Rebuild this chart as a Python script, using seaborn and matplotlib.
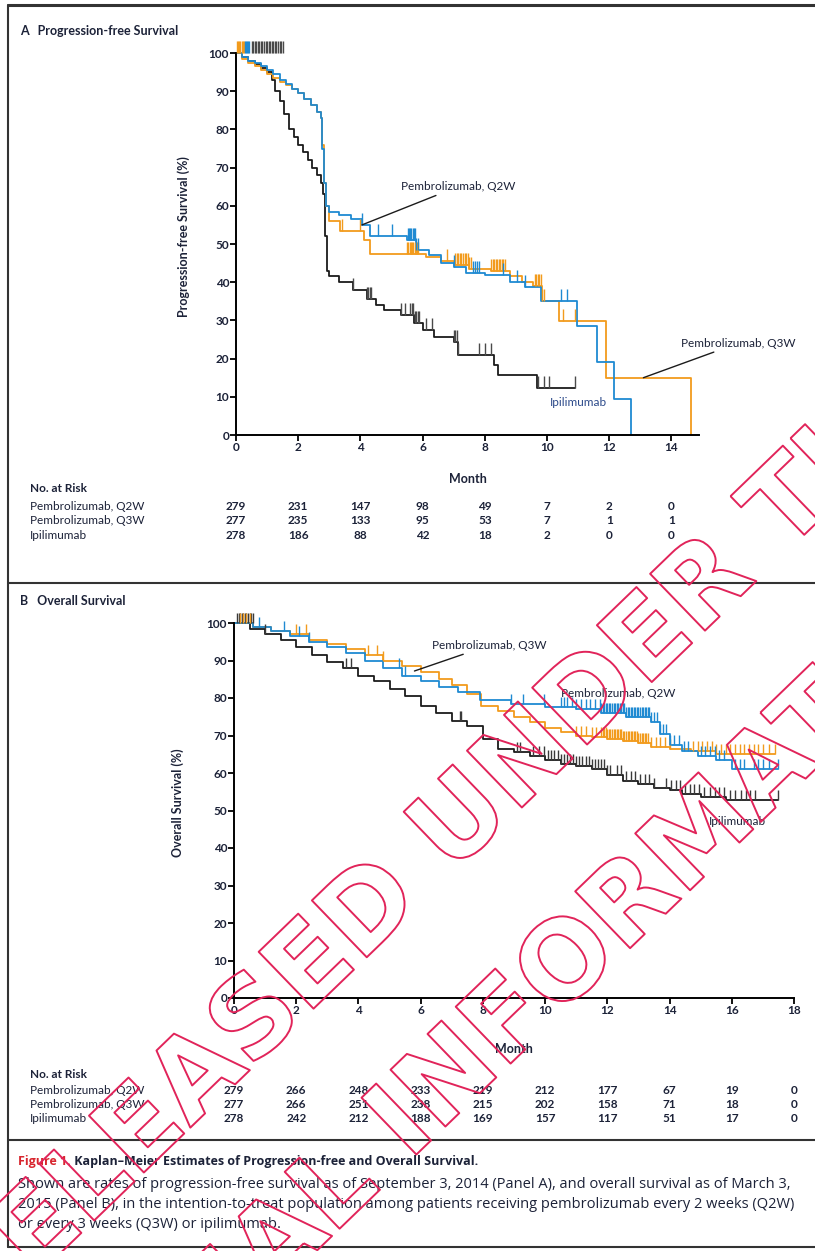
import numpy as np
import pandas as pd
import matplotlib
matplotlib.use("Agg")
import matplotlib.pyplot as plt
import matplotlib.patheffects as pe
import matplotlib.transforms as mtransforms
from matplotlib.lines import Line2D
import seaborn as sns

# ---------------- data: Panel A, progression-free survival ----------------
pfs_q2w_t = [0, 0.2, 0.4, 0.6, 0.8, 1.0, 1.2, 1.4, 1.6, 1.8, 2.0, 2.2, 2.4, 2.6, 2.72, 2.78, 2.84, 2.9, 3.0,
             3.3, 3.7, 4.05, 4.3, 5.5, 5.8, 6.2, 6.6, 7.0, 7.4, 8.0, 8.8, 9.3, 9.8, 10.95, 11.6, 12.15, 12.7]
pfs_q2w_s = [100, 99, 98, 97.5, 96.5, 95.5, 94.5, 93, 92, 90.5, 89.5, 88, 86.5, 84.5, 83, 75, 66, 60, 58.5,
             57.5, 56.5, 55, 52, 51, 48.5, 47, 45, 44, 42.5, 42, 40, 38.8, 35, 28.5, 19, 9.5, 0]
pfs_q3w_t = [0, 0.2, 0.4, 0.6, 0.8, 1.0, 1.2, 1.4, 1.6, 1.8, 2.0, 2.2, 2.4, 2.6, 2.72, 2.78, 2.84, 2.9, 3.0,
             3.35, 4.1, 4.3, 6.1, 6.6, 7.0, 7.5, 8.2, 8.8, 9.2, 9.55, 9.83, 10.4, 11.9, 14.62]
pfs_q3w_s = [100, 98.5, 97.5, 96.5, 95.5, 94.5, 93.5, 92.5, 91.5, 90.5, 89.5, 88, 86.5, 84.5, 83, 76, 66, 60, 56,
             53.5, 51, 47.5, 46.5, 45.5, 44.5, 43.5, 43, 41.5, 40, 39, 35, 29.8, 15, 0]
pfs_ipi_t = [0, 0.2, 0.4, 0.6, 0.8, 1.0, 1.15, 1.25, 1.4, 1.55, 1.7, 1.85, 2.0, 2.15, 2.3, 2.45, 2.6, 2.72, 2.8,
             2.86, 2.92, 3.0, 3.3, 3.77, 4.2, 4.5, 4.76, 5.3, 5.73, 6.0, 6.37, 7.0, 7.15, 8.28, 8.44, 9.67, 10.9]
pfs_ipi_s = [100, 99, 98, 97, 96, 95, 93, 90, 87.5, 84, 80, 78, 76, 74, 72, 70, 68, 66, 63,
             52, 43, 41.5, 40, 38, 35.5, 34, 32.7, 31.4, 29.2, 27.5, 25.7, 24.4, 21, 18.3, 15.7, 12.2, 12.2]

pfs_q2w_cens_top = [0.30, 0.33, 0.36, 0.39, 0.42]
pfs_q2w_cens = [4.05, 4.55, 5.0, 5.52, 5.56, 5.6, 5.64, 5.68, 5.72, 5.76, 5.8, 5.84, 7.0, 7.62, 7.68, 7.74,
                7.8, 8.6, 9.05, 9.3, 10.45, 10.65]
pfs_q3w_cens_top = [0.02, 0.06, 0.1, 0.14, 0.18, 0.22, 0.26]
pfs_q3w_cens = [3.4, 4.0, 5.5, 5.54, 5.58, 5.62, 5.66, 5.7, 5.74, 5.78, 5.82, 5.86, 6.8, 7.05, 7.1, 7.15, 7.2,
                7.25, 7.3, 7.35, 7.4, 7.45, 7.5, 7.55, 8.2, 8.25, 8.3, 8.35, 8.4, 8.45, 8.5, 8.55, 8.6, 8.65,
                9.6, 9.65, 9.7, 9.75, 9.8, 9.85, 9.9, 10.5, 10.9]
pfs_ipi_cens_top = [0.5, 0.55, 0.6, 0.65, 0.7, 0.75, 0.8, 0.85, 0.9, 0.95, 1.0, 1.05, 1.1, 1.15, 1.2, 1.25,
                    1.3, 1.35, 1.4, 1.45, 1.5]
pfs_ipi_cens = [3.77, 4.2, 4.25, 4.3, 4.35, 5.3, 5.45, 5.6, 5.65, 5.7, 5.75, 5.8, 5.85, 5.9, 6.1, 6.3, 7.0,
                7.05, 7.1, 7.15, 7.8, 8.0, 8.2, 9.7, 9.9, 10.05, 10.9]

# ---------------- data: Panel B, overall survival ----------------
os_q2w_t = [0, 0.6, 1.2, 1.8, 2.4, 3.0, 3.6, 4.2, 4.8, 5.4, 6.0, 6.6, 7.2, 7.9, 8.9, 10.0, 11.0, 11.8, 12.6,
            13.4, 13.7, 14.0, 14.4, 14.9, 15.5, 16.0, 17.5]
os_q2w_s = [100, 99, 98, 96.5, 95, 93.5, 92, 90, 88, 86, 84.5, 83, 81.5, 79.5, 78.5, 77.5, 77, 76, 75,
            73.5, 70.5, 67.5, 66, 64.5, 63.5, 61, 61]
os_q3w_t = [0, 0.6, 1.2, 1.8, 2.4, 3.0, 3.6, 4.2, 4.8, 5.4, 6.0, 6.6, 7.0, 7.5, 7.95, 8.5, 9.0, 9.5, 10.0,
            10.5, 11.0, 11.5, 12.0, 12.5, 13.0, 13.4, 14.0, 14.7, 15.5, 17.4]
os_q3w_s = [100, 99, 98, 97, 95.5, 94.5, 93, 91.5, 90, 88.5, 87, 85, 83.5, 81.2, 78, 76.5, 75, 73.5, 72,
            71, 70, 69.5, 69, 68.5, 68, 67, 66.5, 65.8, 65, 65]
os_ipi_t = [0, 0.5, 1.0, 1.5, 2.0, 2.5, 3.0, 3.5, 4.0, 4.5, 5.0, 5.5, 6.0, 6.5, 7.0, 7.5, 8.0, 8.5, 9.0, 9.5,
            10.0, 10.5, 11.0, 11.5, 12.0, 12.5, 13.0, 13.5, 14.0, 14.4, 15.0, 15.8, 17.5]
os_ipi_s = [100, 98.5, 97, 95.5, 93.5, 91.5, 89.5, 88, 86, 84.5, 82.5, 80.5, 78, 76, 74, 72.5, 69, 66.5,
            65.5, 64.5, 63.5, 62.5, 62, 61, 59.5, 58, 57, 56, 55.5, 54.5, 53.5, 52.8, 52.8]

os_q2w_cens_top = []
os_q2w_cens = [0.8, 1.6, 2.1, 2.4, 5.3, 5.5, 8.9, 9.3, 9.97, 10.5, 10.6, 10.7, 10.85, 11.0, 11.15, 11.3,
               11.45, 11.6, 11.75, 11.8, 11.85, 11.9, 11.95, 12.0, 12.05, 12.1, 12.15, 12.2, 12.25, 12.3,
               12.35, 12.4, 12.45, 12.5, 12.55, 12.6, 12.65, 12.7, 12.75, 12.8, 12.85, 12.9, 12.95, 13.0,
               13.05, 13.1, 13.15, 13.2, 13.25, 13.3, 13.35, 13.4, 13.5, 13.6, 13.7, 13.8, 13.9, 14.0,
               14.15, 14.3, 14.45, 14.6, 15.0, 15.15, 15.3, 15.45, 15.6, 15.75, 16.1, 16.25, 16.4, 16.7,
               16.85, 17.0, 17.2, 17.5]
os_q3w_cens_top = [0.2, 0.3, 0.4, 0.5]
os_q3w_cens = [2.0, 2.3, 4.3, 4.6, 4.8, 11.0, 11.15, 11.3, 11.5, 11.65, 11.8, 11.85, 11.9, 11.95, 12.0,
               12.05, 12.1, 12.15, 12.2, 12.25, 12.3, 12.35, 12.4, 12.45, 12.5, 12.55, 12.6, 12.65, 12.7,
               12.75, 12.8, 12.85, 12.9, 12.95, 13.0, 13.05, 13.1, 13.15, 13.2, 13.25, 13.3, 13.4, 13.55,
               13.7, 13.85, 14.0, 14.75, 14.9, 15.05, 15.2, 15.35, 15.5, 15.65, 15.8, 15.95, 16.1, 16.25,
               16.4, 16.55, 16.7, 16.85, 17.0, 17.2, 17.4]
os_ipi_cens_top = [0.1, 0.15, 0.2, 0.25, 0.3, 0.35, 0.4, 0.45, 0.5, 0.55, 0.6]
os_ipi_cens = [1.0, 3.6, 3.75, 7.25, 7.3, 9.1, 9.2, 9.6, 9.8, 9.95, 10.1, 10.2, 10.3, 10.4, 10.5, 10.6,
               10.7, 10.8, 10.9, 11.0, 11.1, 11.2, 11.3, 11.4, 11.5, 11.6, 11.7, 11.8, 11.9, 12.0, 12.1,
               12.3, 12.45, 12.6, 12.75, 12.9, 13.05, 13.2, 13.35, 13.5, 13.9, 14.05, 14.2, 14.35, 14.5,
               14.65, 14.8, 14.95, 15.1, 15.3, 15.45, 15.6, 15.75, 15.95, 16.1, 16.3, 16.45, 16.6, 16.75,
               17.5]

# ---------------- risk tables ----------------
groups = ["Pembrolizumab, Q2W", "Pembrolizumab, Q3W", "Ipilimumab"]
risk_months_A = [0, 2, 4, 6, 8, 10, 12, 14]
risk_A_q2w = [279, 231, 147, 98, 49, 7, 2, 0]
risk_A_q3w = [277, 235, 133, 95, 53, 7, 1, 1]
risk_A_ipi = [278, 186, 88, 42, 18, 2, 0, 0]
risk_months_B = [0, 2, 4, 6, 8, 10, 12, 14, 16, 18]
risk_B_q2w = [279, 266, 248, 233, 219, 212, 177, 67, 19, 0]
risk_B_q3w = [277, 266, 251, 238, 215, 202, 158, 71, 18, 0]
risk_B_ipi = [278, 242, 212, 188, 169, 157, 117, 51, 17, 0]

yticks = [0, 10, 20, 30, 40, 50, 60, 70, 80, 90, 100]
xticks_A = [0, 2, 4, 6, 8, 10, 12, 14]
xticks_B = [0, 2, 4, 6, 8, 10, 12, 14, 16, 18]

# ---------------- style ----------------
BLUE = "#1f8ad2"
ORANGE = "#f29b1d"
BLACK = "#1b1b1b"
TXT = "#1c2238"
RED = "#e1245a"

sns.set_theme(style="ticks")
plt.rcParams['font.family'] = ['Lato', 'DejaVu Sans']

W, H = 815, 1251
fig = plt.figure(figsize=(W / 100, H / 100), dpi=100)
fig.patch.set_facecolor("white")


def px_axes(left, right, top, bottom):
    return fig.add_axes([left / W, 1 - bottom / H, (right - left) / W, (bottom - top) / H])


def draw_km(ax, t, s, color, lw=1.3):
    df = pd.DataFrame({"Month": t, "Surv": s})
    sns.lineplot(data=df, x="Month", y="Surv", ax=ax, color=color, lw=lw,
                 drawstyle="steps-post", estimator=None, sort=False, legend=False)


TICK = [(0, 0), (0, 1)]


def draw_censor(ax, t, s, times, top_times, color, size):
    t = np.asarray(t)
    s = np.asarray(s)
    times = np.asarray(times, dtype=float)
    idx = np.clip(np.searchsorted(t, times, side="right") - 1, 0, len(s) - 1)
    ys = list(s[idx]) + [s[0]] * len(top_times)
    xs = list(times) + list(top_times)
    if not xs:
        return
    sns.scatterplot(x=xs, y=ys, ax=ax, marker=TICK, s=size, color=color,
                    edgecolor=color, linewidth=1.0, legend=False, clip_on=False, zorder=3)


def style_axes(ax, xmax, xticks, ylab, ylab_x, xlab_y):
    ax.set_xlim(0, xmax)
    ax.set_ylim(0, 104)
    ax.set_xticks(xticks)
    ax.set_yticks(yticks)
    ax.spines["left"].set_bounds(0, 100)
    ax.spines["right"].set_visible(False)
    ax.spines["top"].set_visible(False)
    for sp in ("left", "bottom"):
        ax.spines[sp].set_linewidth(1.4)
        ax.spines[sp].set_color("black")
    ax.tick_params(axis="both", direction="out", length=4, width=1.3, color="black",
                   labelsize=8.5, labelcolor=TXT, pad=1)
    for lab in ax.get_xticklabels() + ax.get_yticklabels():
        lab.set_fontweight("bold")
    ax.set_ylabel(ylab, fontsize=9, fontweight="bold", color=TXT)
    ax.set_xlabel("Month", fontsize=9, fontweight="bold", color=TXT)
    ax.yaxis.set_label_coords(ylab_x, 0.5)
    ax.xaxis.set_label_coords(0.5, xlab_y)
    ax.set_facecolor("none")
    ax.grid(False)


# ---------------- Panel A ----------------
axA = px_axes(236, 236 + 14.9 * 31.1, 435 - 104 * 3.82, 435)
draw_km(axA, pfs_ipi_t, pfs_ipi_s, BLACK)
draw_km(axA, pfs_q3w_t, pfs_q3w_s, ORANGE)
draw_km(axA, pfs_q2w_t, pfs_q2w_s, BLUE)
draw_censor(axA, pfs_ipi_t, pfs_ipi_s, pfs_ipi_cens, pfs_ipi_cens_top, "#4a4a4a", 300)
draw_censor(axA, pfs_q3w_t, pfs_q3w_s, pfs_q3w_cens, pfs_q3w_cens_top, ORANGE, 300)
draw_censor(axA, pfs_q2w_t, pfs_q2w_s, pfs_q2w_cens, pfs_q2w_cens_top, BLUE, 300)
style_axes(axA, 14.9, xticks_A, "Progression-free Survival (%)", -0.10, -0.095)

ann = dict(fontsize=8.5, color=TXT, annotation_clip=False)
axA.annotate("Pembrolizumab, Q2W", xy=(4.05, 55), xytext=(5.3, 65), va="center", ha="left",
             arrowprops=dict(arrowstyle="-", color=BLACK, lw=1.0, shrinkA=0, shrinkB=0), **ann)
axA.annotate("Pembrolizumab, Q3W", xy=(13.1, 15), xytext=(14.3, 24), va="center", ha="left",
             arrowprops=dict(arrowstyle="-", color=BLACK, lw=1.0, shrinkA=0, shrinkB=0), **ann)
axA.text(11.0, 8.6, "Ipilimumab", ha="center", va="center", fontsize=8.5, color="#2c4a8a")

# ---------------- Panel B ----------------
axB = px_axes(234, 794, 998 - 104 * 3.75, 998)
draw_km(axB, os_ipi_t, os_ipi_s, BLACK)
draw_km(axB, os_q3w_t, os_q3w_s, ORANGE)
draw_km(axB, os_q2w_t, os_q2w_s, BLUE)
draw_censor(axB, os_ipi_t, os_ipi_s, os_ipi_cens, os_ipi_cens_top, "#3a3a3a", 220)
draw_censor(axB, os_q3w_t, os_q3w_s, os_q3w_cens, os_q3w_cens_top, ORANGE, 220)
draw_censor(axB, os_q2w_t, os_q2w_s, os_q2w_cens, os_q2w_cens_top, BLUE, 220)
style_axes(axB, 18, xticks_B, "Overall Survival (%)", -0.09, -0.115)

axB.annotate("Pembrolizumab, Q3W", xy=(5.8, 87.2), xytext=(6.35, 94), va="center", ha="left",
             arrowprops=dict(arrowstyle="-", color=BLACK, lw=1.0, shrinkA=0, shrinkB=0), **ann)
axB.text(10.5, 81.3, "Pembrolizumab, Q2W", ha="left", va="center", fontsize=8.5, color=TXT)
axB.text(15.25, 47, "Ipilimumab", ha="left", va="center", fontsize=8.5, color=TXT)

# ---------------- titles ----------------
fig.text(20 / W, 1 - 31 / H, "A   Progression-free Survival", fontsize=9, fontweight="bold",
         color=TXT, va="center", ha="left")
fig.text(20 / W, 1 - 601 / H, "B   Overall Survival", fontsize=9, fontweight="bold",
         color=TXT, va="center", ha="left")


# ---------------- risk tables ----------------
def risk_table(ax, months, rows, y_head, y_rows):
    tr = mtransforms.blended_transform_factory(ax.transData, fig.transFigure)
    fig.text(30 / W, 1 - y_head / H, "No. at Risk", fontsize=8.5, fontweight="bold", color=TXT,
             va="center", ha="left")
    for name, vals, yy in zip(groups, rows, y_rows):
        fig.text(30 / W, 1 - yy / H, name, fontsize=8.5, color=TXT, va="center", ha="left")
        for m, v in zip(months, vals):
            ax.text(m, 1 - yy / H, str(v), transform=tr, fontsize=8.5, fontweight="bold",
                    color=TXT, va="center", ha="center")


risk_table(axA, risk_months_A, [risk_A_q2w, risk_A_q3w, risk_A_ipi], 489, [507, 521, 535])
risk_table(axB, risk_months_B, [risk_B_q2w, risk_B_q3w, risk_B_ipi], 1074, [1090, 1104, 1118])

# ---------------- frame lines ----------------
for (x0, y0, x1, y1, lw) in [(8, 5, 815, 5, 2.2), (8, 583, 815, 583, 1.5), (8, 1140, 815, 1140, 1.5),
                             (8, 1247, 815, 1247, 1.5), (8, 5, 8, 1247, 1.5)]:
    fig.add_artist(Line2D([x0 / W, x1 / W], [1 - y0 / H, 1 - y1 / H], color="#333333", lw=lw,
                          transform=fig.transFigure))

# ---------------- caption ----------------
t1 = fig.text(18 / W, 1 - 1162 / H, "Figure 1.", fontsize=9, fontweight="bold", color="#d8262e",
              va="center", ha="left", family=["Open Sans", "DejaVu Sans"])
axA.annotate(" Kaplan\u2013Meier Estimates of Progression-free and Overall Survival.", xy=(1, 0.5),
             xycoords=t1, va="center", ha="left", fontsize=9, fontweight="bold", color=TXT,
             annotation_clip=False, family=["Open Sans", "DejaVu Sans"])
caption = ["Shown are rates of progression-free survival as of September 3, 2014 (Panel A), and overall survival as of March 3,",
           "2015 (Panel B), in the intention-to-treat population among patients receiving pembrolizumab every 2 weeks (Q2W)",
           "or every 3 weeks (Q3W) or ipilimumab."]
for i, line in enumerate(caption):
    fig.text(18 / W, 1 - (1185 + 20 * i) / H, line, fontsize=10.5, color=TXT, va="center", ha="left",
             family=["Open Sans", "DejaVu Sans"])

# ---------------- watermark ----------------
for txt, (cx, cy) in [("RELEASED UNDER THE", (445, 840)), ("OFFICIAL INFORMATION ACT", (585, 950))]:
    wm = fig.text(cx / W, 1 - cy / H, txt, fontsize=78, fontweight="bold", family="DejaVu Sans",
                  rotation=44, rotation_mode="anchor", ha="center", va="center", color="none",
                  zorder=10)
    wm.set_path_effects([pe.Stroke(linewidth=1.4, foreground=RED)])

fig.savefig("out.png", dpi=100, facecolor="white")
